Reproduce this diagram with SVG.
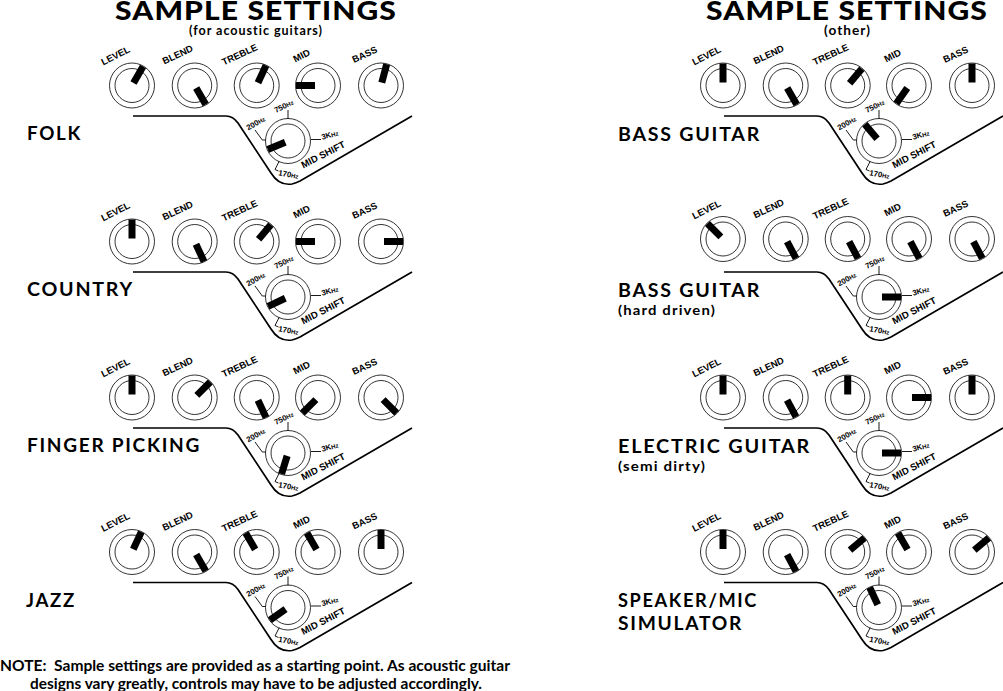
<svg xmlns="http://www.w3.org/2000/svg" width="1003" height="691" viewBox="0 0 1003 691">
<style>
text{font-family:Lato,"Open Sans","Liberation Sans",sans-serif;font-weight:700;fill:#000}
.t{font-size:27px;font-weight:900;letter-spacing:1px}
.sub{font-size:13px;letter-spacing:1px}
.n{font-size:18px;letter-spacing:1.6px}
.note{font-size:14.8px}
.k,.s,.m{font-family:"Liberation Sans",Arial,sans-serif;text-anchor:middle}
.k{font-size:9.500px}
.s{font-size:7.800px}
.s tspan{font-size:6px}
.m{font-size:9.600px}
.ring{fill:none;stroke:#000;stroke-width:.8}
.wire{fill:none;stroke:#000;stroke-width:1.7}
.tick{fill:none;stroke:#000;stroke-width:.9}
</style>
<defs>
<g id="knob"><circle class="ring" r="22.500"/><circle class="ring" r="17"/></g>
<rect id="ptr" x="-3.500" y="-22" width="7" height="19" fill="#000"/>
<g id="wire">
<path class="wire" d="M133 116H226Q233 116 238 123L271 173Q279 186 292 184Q296 183 300 181L412 116"/>
<path class="tick" d="M288 119V110M311 139.500H321M265.700 140H262.300L255 130M279.300 161L275 169.500L278.500 171"/>
</g>
</defs>
<g id="title-left"><text class="t" x="115" y="20.300" textLength="282" lengthAdjust="spacingAndGlyphs">SAMPLE SETTINGS</text><text class="sub" x="189" y="34.500" textLength="134" lengthAdjust="spacingAndGlyphs">(for acoustic guitars)</text></g>
<g id="title-right"><text class="t" x="706" y="20.300" textLength="282" lengthAdjust="spacingAndGlyphs">SAMPLE SETTINGS</text><text class="sub" x="824" y="34.500" textLength="47" lengthAdjust="spacingAndGlyphs">(other)</text></g>

<g id="connectors">
<use href="#wire"/><use href="#wire" y="156"/><use href="#wire" y="312"/><use href="#wire" y="466.500"/>
<use href="#wire" x="591"/><use href="#wire" x="591" y="156"/><use href="#wire" x="591" y="312"/><use href="#wire" x="591" y="466.500"/>
</g>

<g id="folk">
<use href="#knob" x="132" y="85.500"/><use href="#knob" x="194.700" y="85.500"/><use href="#knob" x="256.700" y="85.500"/><use href="#knob" x="318" y="85.500"/><use href="#knob" x="381" y="85.500"/><use href="#knob" x="288" y="141"/>
<use href="#ptr" transform="translate(132 85.500) rotate(30)"/><use href="#ptr" transform="translate(194.700 85.500) rotate(150)"/><use href="#ptr" transform="translate(256.700 85.500) rotate(25)"/><use href="#ptr" transform="translate(318 85.500) rotate(270)"/><use href="#ptr" transform="translate(381 85.500) rotate(15)"/><use href="#ptr" transform="translate(288 141) rotate(247)"/>
<text class="k" transform="translate(117 58.500) rotate(-27)">LEVEL</text><text class="k" transform="translate(179 57.500) rotate(-25)">BLEND</text><text class="k" transform="translate(241 57.500) rotate(-25)">TREBLE</text><text class="k" transform="translate(303 58.500) rotate(-27)">MID</text><text class="k" transform="translate(366 57.500) rotate(-25)">BASS</text>
<text class="s" transform="translate(285 108.500) rotate(-27)">750<tspan>Hz</tspan></text><text class="s" transform="translate(257 125.500) rotate(-30)">200<tspan>Hz</tspan></text><text class="s" transform="translate(330.500 137.500) rotate(-15)">3K<tspan>Hz</tspan></text><text class="s" transform="translate(288 177) rotate(10)">170<tspan>Hz</tspan></text><text class="m" transform="translate(324.500 157.500) rotate(-27)">MID SHIFT</text>
<text class="n" x="27" y="140" textLength="55" lengthAdjust="spacingAndGlyphs">FOLK</text>
</g>

<g id="country" transform="translate(0 156)">
<use href="#knob" x="132" y="85.500"/><use href="#knob" x="194.700" y="85.500"/><use href="#knob" x="256.700" y="85.500"/><use href="#knob" x="318" y="85.500"/><use href="#knob" x="381" y="85.500"/><use href="#knob" x="288" y="141"/>
<use href="#ptr" transform="translate(132 85.500) rotate(0)"/><use href="#ptr" transform="translate(194.700 85.500) rotate(155)"/><use href="#ptr" transform="translate(256.700 85.500) rotate(40)"/><use href="#ptr" transform="translate(318 85.500) rotate(270)"/><use href="#ptr" transform="translate(381 85.500) rotate(90)"/><use href="#ptr" transform="translate(288 141) rotate(245)"/>
<text class="k" transform="translate(117 58.500) rotate(-27)">LEVEL</text><text class="k" transform="translate(179 57.500) rotate(-25)">BLEND</text><text class="k" transform="translate(241 57.500) rotate(-25)">TREBLE</text><text class="k" transform="translate(303 58.500) rotate(-27)">MID</text><text class="k" transform="translate(366 57.500) rotate(-25)">BASS</text>
<text class="s" transform="translate(285 108.500) rotate(-27)">750<tspan>Hz</tspan></text><text class="s" transform="translate(257 125.500) rotate(-30)">200<tspan>Hz</tspan></text><text class="s" transform="translate(330.500 137.500) rotate(-15)">3K<tspan>Hz</tspan></text><text class="s" transform="translate(288 177) rotate(10)">170<tspan>Hz</tspan></text><text class="m" transform="translate(324.500 157.500) rotate(-27)">MID SHIFT</text>
<text class="n" x="27" y="140" textLength="107" lengthAdjust="spacingAndGlyphs">COUNTRY</text>
</g>

<g id="finger-picking" transform="translate(0 312)">
<use href="#knob" x="132" y="85.500"/><use href="#knob" x="194.700" y="85.500"/><use href="#knob" x="256.700" y="85.500"/><use href="#knob" x="318" y="85.500"/><use href="#knob" x="381" y="85.500"/><use href="#knob" x="288" y="141"/>
<use href="#ptr" transform="translate(132 85.500) rotate(0)"/><use href="#ptr" transform="translate(194.700 85.500) rotate(45)"/><use href="#ptr" transform="translate(256.700 85.500) rotate(155)"/><use href="#ptr" transform="translate(318 85.500) rotate(225)"/><use href="#ptr" transform="translate(381 85.500) rotate(135)"/><use href="#ptr" transform="translate(288 141) rotate(197)"/>
<text class="k" transform="translate(117 58.500) rotate(-27)">LEVEL</text><text class="k" transform="translate(179 57.500) rotate(-25)">BLEND</text><text class="k" transform="translate(241 57.500) rotate(-25)">TREBLE</text><text class="k" transform="translate(303 58.500) rotate(-27)">MID</text><text class="k" transform="translate(366 57.500) rotate(-25)">BASS</text>
<text class="s" transform="translate(285 108.500) rotate(-27)">750<tspan>Hz</tspan></text><text class="s" transform="translate(257 125.500) rotate(-30)">200<tspan>Hz</tspan></text><text class="s" transform="translate(330.500 137.500) rotate(-15)">3K<tspan>Hz</tspan></text><text class="s" transform="translate(288 177) rotate(10)">170<tspan>Hz</tspan></text><text class="m" transform="translate(324.500 157.500) rotate(-27)">MID SHIFT</text>
<text class="n" x="27" y="140" textLength="174" lengthAdjust="spacingAndGlyphs">FINGER PICKING</text>
</g>

<g id="jazz" transform="translate(0 466.500)">
<use href="#knob" x="132" y="85.500"/><use href="#knob" x="194.700" y="85.500"/><use href="#knob" x="256.700" y="85.500"/><use href="#knob" x="318" y="85.500"/><use href="#knob" x="381" y="85.500"/><use href="#knob" x="288" y="141"/>
<use href="#ptr" transform="translate(132 85.500) rotate(25)"/><use href="#ptr" transform="translate(194.700 85.500) rotate(150)"/><use href="#ptr" transform="translate(256.700 85.500) rotate(330)"/><use href="#ptr" transform="translate(318 85.500) rotate(330)"/><use href="#ptr" transform="translate(381 85.500) rotate(0)"/><use href="#ptr" transform="translate(288 141) rotate(235)"/>
<text class="k" transform="translate(117 58.500) rotate(-27)">LEVEL</text><text class="k" transform="translate(179 57.500) rotate(-25)">BLEND</text><text class="k" transform="translate(241 57.500) rotate(-25)">TREBLE</text><text class="k" transform="translate(303 58.500) rotate(-27)">MID</text><text class="k" transform="translate(366 57.500) rotate(-25)">BASS</text>
<text class="s" transform="translate(285 108.500) rotate(-27)">750<tspan>Hz</tspan></text><text class="s" transform="translate(257 125.500) rotate(-30)">200<tspan>Hz</tspan></text><text class="s" transform="translate(330.500 137.500) rotate(-15)">3K<tspan>Hz</tspan></text><text class="s" transform="translate(288 177) rotate(10)">170<tspan>Hz</tspan></text><text class="m" transform="translate(324.500 157.500) rotate(-27)">MID SHIFT</text>
<text class="n" x="26" y="140.500" textLength="50" lengthAdjust="spacingAndGlyphs">JAZZ</text>
</g>

<g id="bass-guitar" transform="translate(591 0)">
<use href="#knob" x="132" y="85.500"/><use href="#knob" x="194.700" y="85.500"/><use href="#knob" x="256.700" y="85.500"/><use href="#knob" x="318" y="85.500"/><use href="#knob" x="381" y="85.500"/><use href="#knob" x="288" y="141"/>
<use href="#ptr" transform="translate(132 85.500) rotate(0)"/><use href="#ptr" transform="translate(194.700 85.500) rotate(150)"/><use href="#ptr" transform="translate(256.700 85.500) rotate(40)"/><use href="#ptr" transform="translate(318 85.500) rotate(215)"/><use href="#ptr" transform="translate(381 85.500) rotate(0)"/><use href="#ptr" transform="translate(288 141) rotate(320)"/>
<text class="k" transform="translate(117 58.500) rotate(-27)">LEVEL</text><text class="k" transform="translate(179 57.500) rotate(-25)">BLEND</text><text class="k" transform="translate(241 57.500) rotate(-25)">TREBLE</text><text class="k" transform="translate(303 58.500) rotate(-27)">MID</text><text class="k" transform="translate(366 57.500) rotate(-25)">BASS</text>
<text class="s" transform="translate(285 108.500) rotate(-27)">750<tspan>Hz</tspan></text><text class="s" transform="translate(257 125.500) rotate(-30)">200<tspan>Hz</tspan></text><text class="s" transform="translate(330.500 137.500) rotate(-15)">3K<tspan>Hz</tspan></text><text class="s" transform="translate(288 177) rotate(10)">170<tspan>Hz</tspan></text><text class="m" transform="translate(324.500 157.500) rotate(-27)">MID SHIFT</text>
<text class="n" x="27" y="141" textLength="143" lengthAdjust="spacingAndGlyphs">BASS GUITAR</text>
</g>

<g id="bass-guitar-hard" transform="translate(591 156)">
<use href="#knob" x="132" y="83"/><use href="#knob" x="194.700" y="83"/><use href="#knob" x="256.700" y="83"/><use href="#knob" x="318" y="83"/><use href="#knob" x="381" y="83"/><use href="#knob" x="288" y="141"/>
<use href="#ptr" transform="translate(132 83) rotate(315)"/><use href="#ptr" transform="translate(194.700 83) rotate(152)"/><use href="#ptr" transform="translate(256.700 83) rotate(152)"/><use href="#ptr" transform="translate(318 83) rotate(152)"/><use href="#ptr" transform="translate(381 83) rotate(152)"/><use href="#ptr" transform="translate(288 141) rotate(90)"/>
<text class="k" transform="translate(117 56.500) rotate(-27)">LEVEL</text><text class="k" transform="translate(179 55.500) rotate(-25)">BLEND</text><text class="k" transform="translate(241 55.500) rotate(-25)">TREBLE</text><text class="k" transform="translate(303 56.500) rotate(-27)">MID</text><text class="k" transform="translate(366 55.500) rotate(-25)">BASS</text>
<text class="s" transform="translate(285 108.500) rotate(-27)">750<tspan>Hz</tspan></text><text class="s" transform="translate(257 125.500) rotate(-30)">200<tspan>Hz</tspan></text><text class="s" transform="translate(330.500 137.500) rotate(-15)">3K<tspan>Hz</tspan></text><text class="s" transform="translate(288 177) rotate(10)">170<tspan>Hz</tspan></text><text class="m" transform="translate(324.500 157.500) rotate(-27)">MID SHIFT</text>
<text class="n" x="27" y="140.500" textLength="143" lengthAdjust="spacingAndGlyphs">BASS GUITAR</text><text class="sub" x="27" y="158.500" textLength="98" lengthAdjust="spacingAndGlyphs">(hard driven)</text>
</g>

<g id="electric-guitar" transform="translate(591 312)">
<use href="#knob" x="132" y="85.500"/><use href="#knob" x="194.700" y="85.500"/><use href="#knob" x="256.700" y="85.500"/><use href="#knob" x="318" y="85.500"/><use href="#knob" x="381" y="85.500"/><use href="#knob" x="288" y="141"/>
<use href="#ptr" transform="translate(132 85.500) rotate(0)"/><use href="#ptr" transform="translate(194.700 85.500) rotate(152)"/><use href="#ptr" transform="translate(256.700 85.500) rotate(0)"/><use href="#ptr" transform="translate(318 85.500) rotate(90)"/><use href="#ptr" transform="translate(381 85.500) rotate(0)"/><use href="#ptr" transform="translate(288 141) rotate(90)"/>
<text class="k" transform="translate(117 58.500) rotate(-27)">LEVEL</text><text class="k" transform="translate(179 57.500) rotate(-25)">BLEND</text><text class="k" transform="translate(241 57.500) rotate(-25)">TREBLE</text><text class="k" transform="translate(303 58.500) rotate(-27)">MID</text><text class="k" transform="translate(366 57.500) rotate(-25)">BASS</text>
<text class="s" transform="translate(285 108.500) rotate(-27)">750<tspan>Hz</tspan></text><text class="s" transform="translate(257 125.500) rotate(-30)">200<tspan>Hz</tspan></text><text class="s" transform="translate(330.500 137.500) rotate(-15)">3K<tspan>Hz</tspan></text><text class="s" transform="translate(288 177) rotate(10)">170<tspan>Hz</tspan></text><text class="m" transform="translate(324.500 157.500) rotate(-27)">MID SHIFT</text>
<text class="n" x="27" y="141" textLength="193" lengthAdjust="spacingAndGlyphs">ELECTRIC GUITAR</text><text class="sub" x="27" y="159" textLength="88" lengthAdjust="spacingAndGlyphs">(semi dirty)</text>
</g>

<g id="speaker-mic" transform="translate(591 466.500)">
<use href="#knob" x="132" y="85.500"/><use href="#knob" x="194.700" y="85.500"/><use href="#knob" x="256.700" y="85.500"/><use href="#knob" x="318" y="85.500"/><use href="#knob" x="381" y="85.500"/><use href="#knob" x="288" y="141"/>
<use href="#ptr" transform="translate(132 85.500) rotate(0)"/><use href="#ptr" transform="translate(194.700 85.500) rotate(152)"/><use href="#ptr" transform="translate(256.700 85.500) rotate(50)"/><use href="#ptr" transform="translate(318 85.500) rotate(330)"/><use href="#ptr" transform="translate(381 85.500) rotate(50)"/><use href="#ptr" transform="translate(288 141) rotate(335)"/>
<text class="k" transform="translate(117 58.500) rotate(-27)">LEVEL</text><text class="k" transform="translate(179 57.500) rotate(-25)">BLEND</text><text class="k" transform="translate(241 57.500) rotate(-25)">TREBLE</text><text class="k" transform="translate(303 58.500) rotate(-27)">MID</text><text class="k" transform="translate(366 57.500) rotate(-25)">BASS</text>
<text class="s" transform="translate(285 108.500) rotate(-27)">750<tspan>Hz</tspan></text><text class="s" transform="translate(257 125.500) rotate(-30)">200<tspan>Hz</tspan></text><text class="s" transform="translate(330.500 137.500) rotate(-15)">3K<tspan>Hz</tspan></text><text class="s" transform="translate(288 177) rotate(10)">170<tspan>Hz</tspan></text><text class="m" transform="translate(324.500 157.500) rotate(-27)">MID SHIFT</text>
<text class="n" x="27" y="140.500" textLength="140" lengthAdjust="spacingAndGlyphs">SPEAKER/MIC</text><text class="n" x="27" y="163.500" textLength="125" lengthAdjust="spacingAndGlyphs">SIMULATOR</text>
</g>

<g id="note">
<text class="note" x="0" y="671" textLength="510" lengthAdjust="spacingAndGlyphs">NOTE:&#160; Sample settings are provided as a starting point. As acoustic guitar</text>
<text class="note" x="30" y="689" textLength="452" lengthAdjust="spacingAndGlyphs">designs vary greatly, controls may have to be adjusted accordingly.</text>
</g>
</svg>
